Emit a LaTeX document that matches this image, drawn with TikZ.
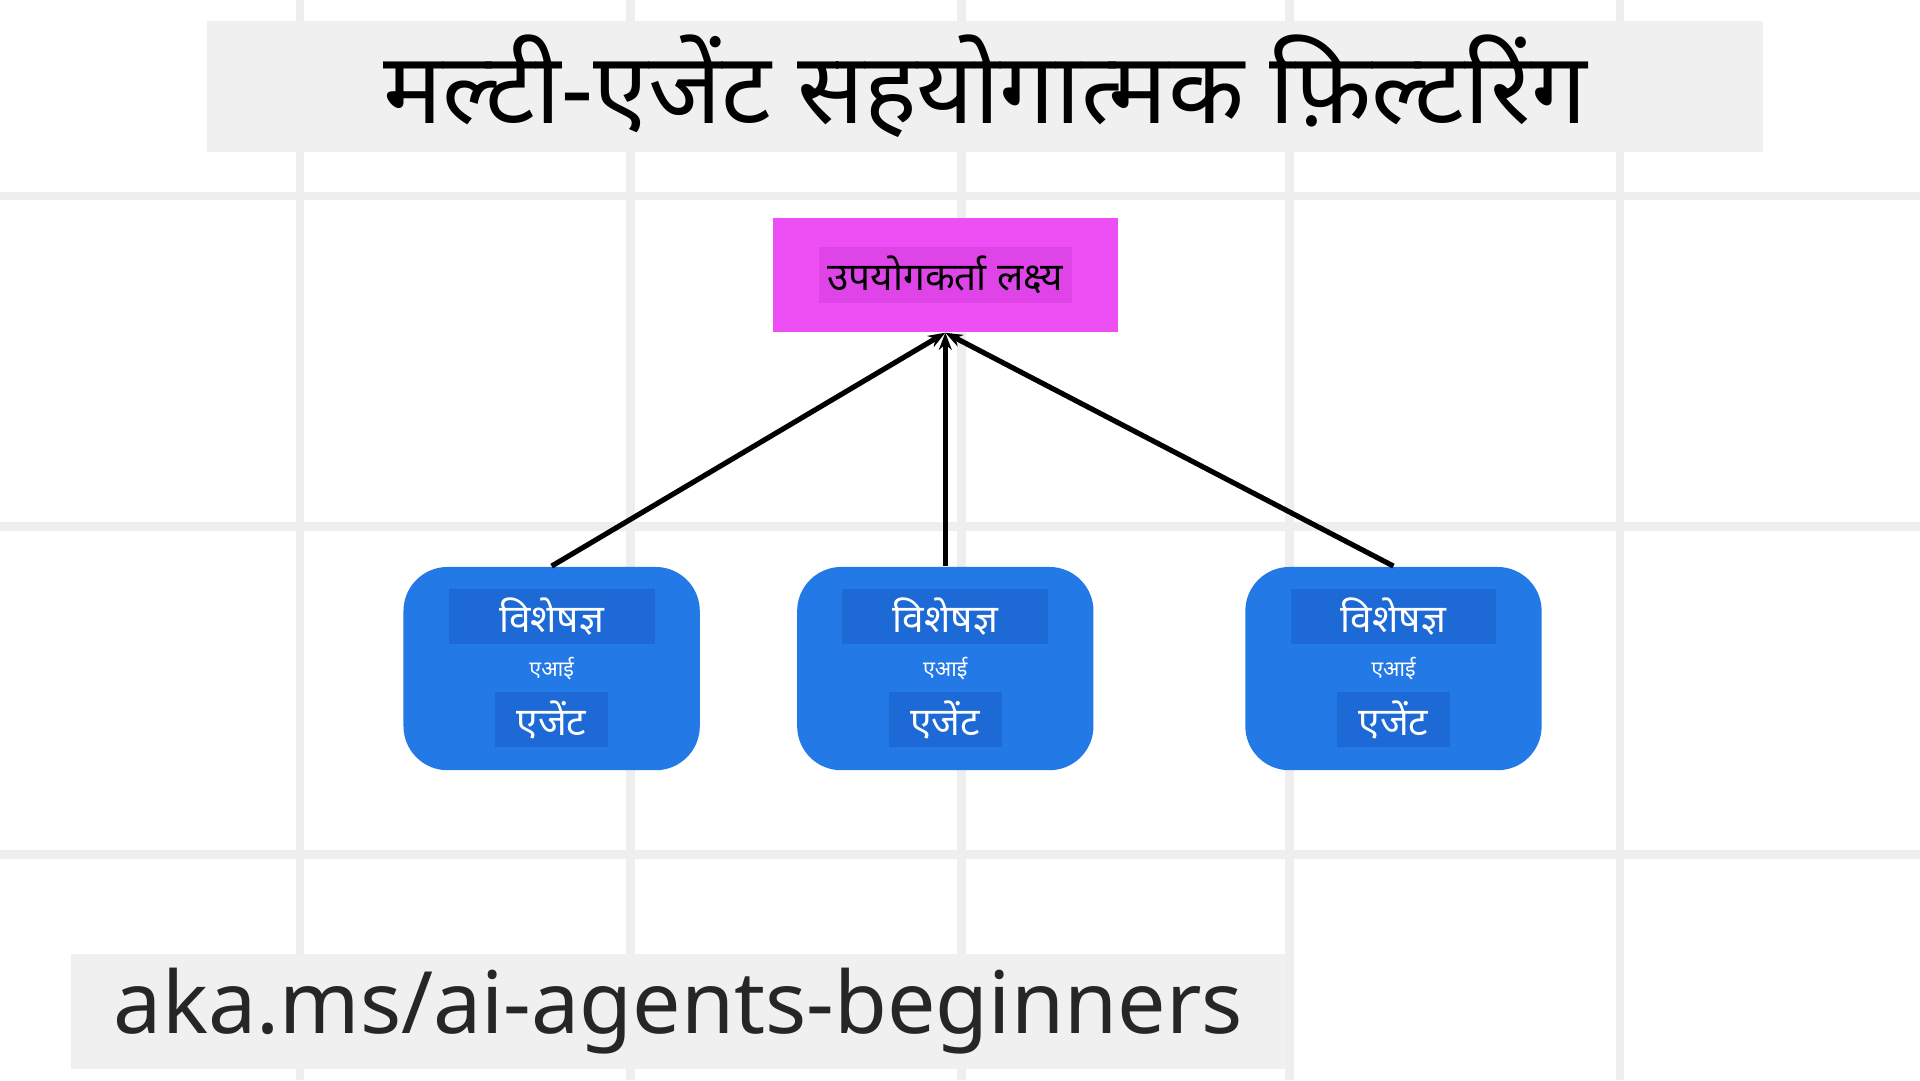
\documentclass[tikz,border=0pt]{standalone}
\usepackage{fontspec}
\setmainfont{Noto Sans}
\newfontfamily\deva[Script=Devanagari]{Noto Sans}
\usetikzlibrary{positioning, arrows.meta}
\definecolor{gridgray}{HTML}{EEEEEE}
\definecolor{bandgray}{HTML}{F0F0F0}
\definecolor{goalpink}{HTML}{EE4FF5}
\definecolor{goalband}{HTML}{DE44E8}
\definecolor{agentblue}{HTML}{2379E6}
\definecolor{agentband}{HTML}{1D6AD6}
\begin{document}
\begin{tikzpicture}[
    x=1cm, y=-1cm,
    agent/.style = {fill=agentblue, rounded corners=0.36cm, minimum width=2.42cm, minimum height=1.66cm},
    band/.style = {fill=agentband, text=white, font=\deva\fontsize{9}{9}\selectfont, inner sep=2pt},
    arr/.style = {-{Stealth[length=0.14cm]}, line width=1.2pt}
]
\useasboundingbox (0,0) rectangle (15.68,8.82);
\fill[white] (0,0) rectangle (15.68,8.82);

% background grid
\foreach \x in {2.45,5.15,7.85,10.53,13.23}
  \draw[gridgray, line width=2pt] (\x,0) -- (\x,8.82);
\foreach \y in {1.60,4.30,6.98}
  \draw[gridgray, line width=2pt] (0,\y) -- (15.68,\y);

% title
\node[fill=bandgray, minimum width=12.71cm, minimum height=0.85cm, font=\deva\fontsize{23}{23}\selectfont] (title) at (8.045,0.705) {मल्टी-एजेंट सहयोगात्मक फ़िल्टरिंग};

% goal
\node[fill=goalpink, minimum width=2.82cm, minimum height=0.93cm] (goal) at (7.72,2.245) {};
\node[fill=goalband, font=\deva\fontsize{9}{9}\selectfont, inner sep=2pt] at (goal) {उपयोगकर्ता लक्ष्य};

% agents
\foreach \name/\x in {a1/4.505, a2/7.72, a3/11.38} {
  \node[agent] (\name) at (\x,5.46) {};
  \node[band, minimum width=1.68cm] at ([yshift=-0.41cm]\name.north) {विशेषज्ञ};
  \node[text=white, font=\deva\fontsize{5}{5}\selectfont] at (\name) {एआई};
  \node[band, minimum width=0.92cm] at ([yshift=0.42cm]\name.south) {एजेंट};
  \draw[arr] (\name.north) -- (goal.south);
}

% link
\node[fill=bandgray, minimum width=9.92cm, minimum height=0.78cm, font=\fontsize{20}{20}\selectfont, text=black!85] (link) at (5.54,8.26) {aka.ms/ai-agents-beginners};
\end{tikzpicture}
\end{document}
